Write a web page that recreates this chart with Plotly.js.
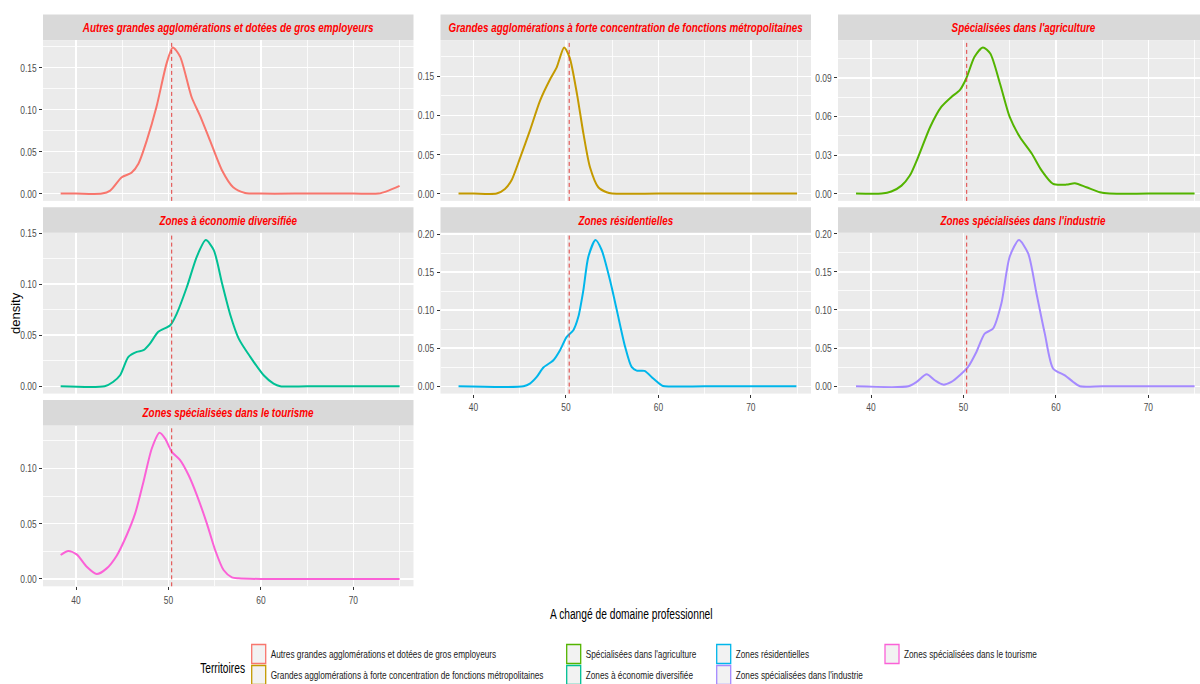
<!DOCTYPE html>
<html><head><meta charset="utf-8">
<script src="https://cdn.plot.ly/plotly-3.0.1.min.js"></script>
<style>html,body{margin:0;padding:0;background:#fff}</style>
</head><body><div id="chart" style="width:1200px;height:684px"></div>
<script>
const territoires = [
  "Autres grandes agglomérations et dotées de gros employeurs",
  "Grandes agglomérations à forte concentration de fonctions métropolitaines",
  "Spécialisées dans l'agriculture",
  "Zones à économie diversifiée",
  "Zones résidentielles",
  "Zones spécialisées dans l'industrie",
  "Zones spécialisées dans le tourisme"
];
const couleurs = ['#F8766D','#C49A00','#53B400','#00C094','#00B6EB','#A58AFF','#FB61D7'];

const x_autres = [38.34, 40, 42.8, 43.7, 44.95, 46.0, 46.75, 47.65, 48.7, 49.8, 50.47, 51.26, 52.5, 53.4, 54.5, 55.8, 57.0, 58.3, 60, 65, 70, 72.7, 73.8, 75.0];
const d_autres = [0, 0, 0, 0.0036, 0.0195, 0.0247, 0.0355, 0.063, 0.103, 0.155, 0.174, 0.163, 0.115, 0.093, 0.063, 0.0275, 0.0076, 0.0008, 0, 0, 0, 0, 0.0036, 0.0092];

const x_grandes = [38.38, 40, 42.5, 43.4, 44.1, 45.05, 46.1, 47.2, 48.3, 49.0, 49.8, 50.4, 51.2, 51.9, 52.6, 53.5, 54.4, 55.0, 60, 65, 70, 75.0];
const d_grandes = [0, 0, 0, 0.006, 0.0166, 0.046, 0.0805, 0.119, 0.1466, 0.1615, 0.187, 0.174, 0.127, 0.076, 0.0337, 0.0081, 0.0017, 0, 0, 0, 0, 0];

const x_agri = [38.38, 41.15, 42.2, 43.3, 44.2, 45.1, 46.4, 47.6, 48.7, 49.6, 50.3, 51.2, 52.1, 52.9, 53.95, 55.0, 56.1, 57.4, 58.45, 59.7, 61.15, 62.05, 63.3, 64.75, 65.8, 70, 75.0];
const d_agri = [0, 0, 0.0016, 0.0062, 0.014, 0.0284, 0.0518, 0.0674, 0.0752, 0.0804, 0.0895, 0.1064, 0.1137, 0.109, 0.0856, 0.0596, 0.044, 0.031, 0.018, 0.0075, 0.007, 0.008, 0.0049, 0.001, 0, 0, 0];

const x_diversifiee = [38.34, 43.1, 44.0, 44.77, 45.67, 46.57, 47.3, 48.0, 48.9, 50.2, 50.9, 52.0, 53.07, 54.04, 54.9, 55.8, 56.7, 57.6, 58.85, 60.3, 61.37, 62.1, 65, 70, 75.0];
const d_diversifiee = [0, 0, 0.0042, 0.0108, 0.0288, 0.0337, 0.0353, 0.0418, 0.0533, 0.0598, 0.0712, 0.0974, 0.127, 0.1431, 0.1333, 0.1007, 0.0696, 0.0467, 0.0288, 0.0108, 0.0026, 0, 0, 0, 0];

const x_residentielles = [38.38, 45.4, 46.1, 46.84, 47.56, 48.64, 49.36, 50.08, 50.8, 51.34, 51.88, 52.42, 53.2, 53.86, 54.76, 55.5, 56.4, 57.1, 57.65, 58.5, 59.45, 60.35, 60.7, 65, 70, 74.93];
const d_residentielles = [0, 0, 0.0035, 0.0123, 0.0246, 0.0342, 0.0474, 0.0649, 0.0737, 0.0912, 0.126, 0.170, 0.192, 0.179, 0.1395, 0.100, 0.0518, 0.0254, 0.0206, 0.0202, 0.0101, 0.0013, 0, 0, 0, 0];

const x_industrie = [38.38, 44.04, 44.94, 46.02, 46.9, 47.8, 48.7, 49.6, 50.5, 51.4, 52.3, 53.2, 54.1, 55.0, 56.0, 57.0, 57.9, 58.8, 59.7, 60.97, 61.87, 62.6, 65, 70, 75.0];
const d_industrie = [0, 0, 0.0057, 0.0157, 0.0079, 0.0022, 0.0057, 0.0144, 0.0254, 0.045, 0.069, 0.0756, 0.1084, 0.1697, 0.1915, 0.174, 0.1216, 0.069, 0.0232, 0.0144, 0.0057, 0, 0, 0, 0];

const x_tourisme = [38.34, 39.17, 40.07, 41.16, 42.24, 43.32, 44.4, 45.49, 46.4, 47.3, 48.2, 49.03, 49.64, 50.36, 51.26, 52.17, 53.07, 54.15, 55.05, 55.96, 56.86, 57.58, 60, 65, 70, 75.0];
const d_tourisme = [0.0217, 0.0253, 0.0223, 0.0111, 0.0045, 0.0096, 0.0211, 0.0398, 0.0593, 0.088, 0.118, 0.1322, 0.127, 0.115, 0.1075, 0.094, 0.0759, 0.0503, 0.0262, 0.0081, 0.0015, 0.0006, 0, 0, 0, 0];

const valeurMoyenne = 50.35;
const yTickPas = [0.05, 0.05, 0.03, 0.05, 0.05, 0.05, 0.05];
const xTickPas = 10;
const titreX = "A changé de domaine professionnel";
const titreY = "density";
const titreLegende = "Territoires";

const xs = [x_autres, x_grandes, x_agri, x_diversifiee, x_residentielles, x_industrie, x_tourisme];
const ds = [d_autres, d_grandes, d_agri, d_diversifiee, d_residentielles, d_industrie, d_tourisme];

const W = 1200, H = 684;
const FONT = 'Liberation Sans, Arial, sans-serif';
const SQUEEZE = 0.73;   // horizontal text compression seen in the reference
const colLeft = [43, 440.5, 838];
const panelW = 370.5;
const rowTop = [14.5, 207.2, 399.9];
const stripH = 25.6, plotH = 160.8;
const pxPerUnit = 9.245;
const xMin = 36.43;
const showX = [false, false, false, false, true, true, true];

const data = [];
const layout = {
  width: W, height: H, margin: {l:0, r:0, t:0, b:0},
  paper_bgcolor: '#ffffff', plot_bgcolor: '#ebebeb',
  showlegend: false, shapes: [], annotations: [],
  font: {family: FONT, color: '#4d4d4d', size: 11}
};

for (let i = 0; i < 7; i++) {
  const row = Math.floor(i / 3), col = i % 3;
  const left = colLeft[col];
  const right = Math.min(W, left + panelW);
  const top = rowTop[row] + stripH, bottom = top + plotH;
  const sfx = i === 0 ? '' : String(i + 1);
  const ymax = Math.max(...ds[i]);
  data.push({
    x: xs[i], y: ds[i], type: 'scatter', mode: 'lines',
    line: {color: couleurs[i], width: 2, shape: 'spline', smoothing: 0.7},
    xaxis: 'x' + sfx, yaxis: 'y' + sfx, hoverinfo: 'skip'
  });
  layout['xaxis' + sfx] = {
    domain: [left / W, right / W], anchor: 'y' + sfx,
    range: [xMin, xMin + (right - left) / pxPerUnit],
    tickmode: 'linear', tick0: 0, dtick: xTickPas,
    showgrid: true, gridcolor: '#ffffff', gridwidth: 1.5,
    minor: {dtick: xTickPas / 2, tick0: 0, showgrid: true, gridcolor: '#ffffff', gridwidth: 0.8},
    zeroline: false, showline: false,
    ticks: showX[i] ? 'outside' : '', ticklen: 3, tickcolor: '#333333', tickwidth: 1,
    showticklabels: showX[i], tickfont: {family: FONT, size: 11.5, color: '#4d4d4d'}
  };
  layout['yaxis' + sfx] = {
    domain: [1 - bottom / H, 1 - top / H], anchor: 'x' + sfx,
    range: [-0.05 * ymax, 1.05 * ymax],
    tickmode: 'linear', tick0: 0, dtick: yTickPas[i], tickformat: '.2f',
    showgrid: true, gridcolor: '#ffffff', gridwidth: 1.5,
    minor: {dtick: yTickPas[i] / 2, tick0: 0, showgrid: true, gridcolor: '#ffffff', gridwidth: 0.8},
    zeroline: false, showline: false,
    ticks: 'outside', ticklen: 3, tickcolor: '#333333', tickwidth: 1,
    tickfont: {family: FONT, size: 11.5, color: '#4d4d4d'}
  };
  layout.shapes.push({type: 'rect', xref: 'paper', yref: 'paper',
    x0: left / W, x1: right / W, y0: 1 - top / H, y1: 1 - rowTop[row] / H,
    fillcolor: '#d9d9d9', line: {width: 0}, layer: 'below'});
  layout.annotations.push({xref: 'paper', yref: 'paper',
    x: (left + panelW / 2) / W, y: 1 - (rowTop[row] + stripH / 2) / H,
    xanchor: 'center', yanchor: 'middle', showarrow: false, text: territoires[i],
    font: {family: FONT, size: 13.5, color: '#ff0000', weight: 'bold', style: 'italic'}});
  layout.shapes.push({type: 'line', xref: 'x' + sfx, yref: 'y' + sfx + ' domain',
    x0: valeurMoyenne, x1: valeurMoyenne, y0: 0, y1: 1,
    line: {color: '#e3413f', width: 1, dash: '4px,3px'}});
}

layout.annotations.push({xref: 'paper', yref: 'paper', x: 632 / W, y: 1 - 614 / H,
  xanchor: 'center', yanchor: 'middle', showarrow: false, text: titreX,
  font: {family: FONT, size: 14, color: '#000000'}});
layout.annotations.push({xref: 'paper', yref: 'paper', x: 15 / W, y: 1 - 313 / H,
  xanchor: 'center', yanchor: 'middle', showarrow: false, text: titreY, textangle: -90,
  font: {family: FONT, size: 13, color: '#000000'}});

const legKeyX = [251.7, 566.7, 716.7, 885];
const legRowY = [644.5, 665.5];
const keyW = 14, keyH = 19;
const fixLeft = [], fixRight = [];
fixRight.push({idx: layout.annotations.length, edge: 245});
layout.annotations.push({xref: 'paper', yref: 'paper', x: 230 / W, y: 1 - 668 / H,
  xanchor: 'center', yanchor: 'middle', showarrow: false, text: titreLegende,
  font: {family: FONT, size: 14, color: '#000000'}});
for (let k = 0; k < 7; k++) {
  const c = Math.floor(k / 2), r = k % 2;
  const kx = legKeyX[c], ky = legRowY[r];
  layout.shapes.push({type: 'rect', xref: 'paper', yref: 'paper',
    x0: kx / W, x1: (kx + keyW) / W, y0: 1 - (ky + keyH) / H, y1: 1 - ky / H,
    fillcolor: '#f2f2f2', line: {color: couleurs[k], width: 1.3}});
  fixLeft.push({idx: layout.annotations.length, edge: kx + keyW + 5});
  layout.annotations.push({xref: 'paper', yref: 'paper', x: (kx + keyW + 100) / W, y: 1 - (ky + keyH / 2) / H,
    xanchor: 'center', yanchor: 'middle', showarrow: false, text: territoires[k],
    font: {family: FONT, size: 11.3, color: '#1a1a1a'}});
}

Plotly.newPlot('chart', data, layout, {staticPlot: true, displayModeBar: false}).then(gd => {
  gd.querySelectorAll('svg text').forEach(t => {
    if (t.textContent === titreY) return;
    const len = t.getComputedTextLength();
    if (len > 0) {
      t.setAttribute('textLength', (len * SQUEEZE).toFixed(2));
      t.setAttribute('lengthAdjust', 'spacingAndGlyphs');
    }
  });
  const shift = (idx, edge, side) => {
    const t = gd.querySelector('g.annotation[data-index="' + idx + '"] text.annotation-text');
    if (!t) return;
    const rect = t.getBoundingClientRect();
    const dx = side === 'left' ? edge - rect.left : edge - rect.right;
    t.setAttribute('x', parseFloat(t.getAttribute('x') || 0) + dx);
    t.querySelectorAll('tspan[x]').forEach(s => s.setAttribute('x', parseFloat(s.getAttribute('x')) + dx));
  };
  fixLeft.forEach(f => shift(f.idx, f.edge, 'left'));
  fixRight.forEach(f => shift(f.idx, f.edge, 'right'));
  // shrink the invisible annotation boxes to the squeezed text
  gd.querySelectorAll('g.annotation').forEach(g => {
    const t = g.querySelector('text.annotation-text');
    const bg = g.querySelector('rect.bg');
    if (!t || !bg || t.textContent === titreY) return;
    const tb = t.getBoundingClientRect();
    const bb = bg.getBoundingClientRect();
    const x0 = parseFloat(bg.getAttribute('x') || 0);
    bg.setAttribute('x', x0 + (tb.left - bb.left));
    bg.setAttribute('width', Math.max(1, tb.width));
  });
});
</script></body></html>
